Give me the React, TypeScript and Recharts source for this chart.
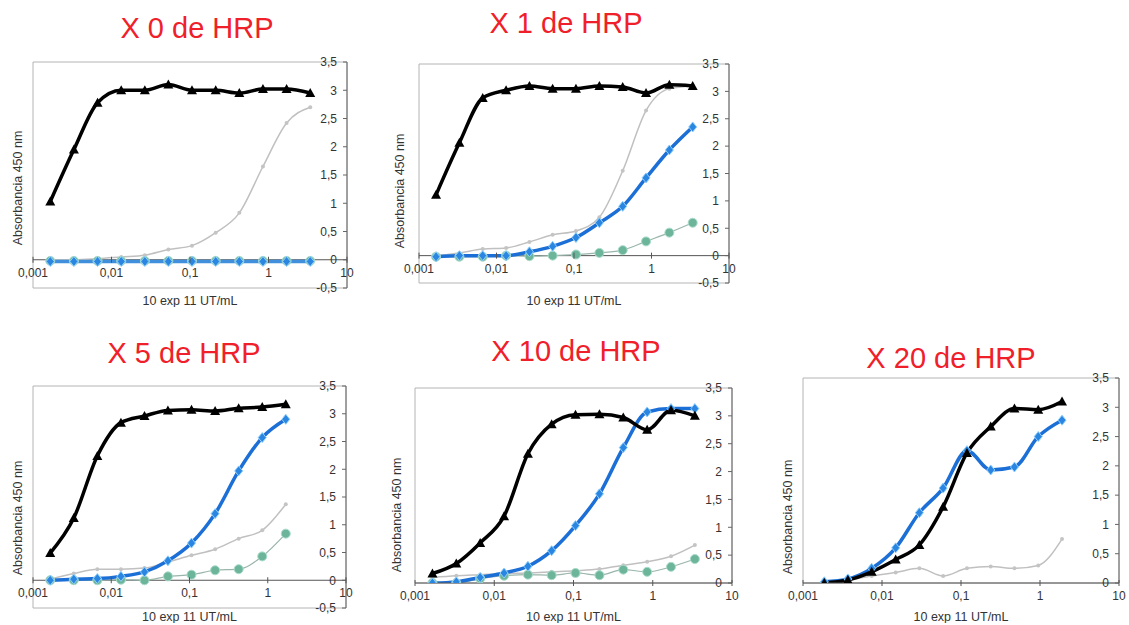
import { LineChart, Line, XAxis, YAxis, ReferenceArea, ReferenceLine } from 'recharts';

// concentrations, 10 exp 11 UT/mL (1:2 serial dilution)
const conc = [0.00166, 0.00332, 0.00664, 0.0133, 0.0266, 0.053, 0.106, 0.2125, 0.425, 0.85, 1.7, 3.4];
const conc11 = [0.00166, 0.00332, 0.00664, 0.0133, 0.0266, 0.053, 0.106, 0.2125, 0.425, 0.85, 1.7];
const concX20 = [0.00186, 0.0037, 0.0074, 0.0149, 0.0297, 0.0594, 0.119, 0.238, 0.475, 0.95, 1.9];

const xTicks = [0.001, 0.01, 0.1, 1, 10];
const yTicksNeg = [-0.5, 0, 0.5, 1, 1.5, 2, 2.5, 3, 3.5];
const yTicksPos = [0, 0.5, 1, 1.5, 2, 2.5, 3, 3.5];

// X 0 de HRP
const black0 = [1.03, 1.95, 2.78, 3.0, 3.0, 3.1, 3.0, 3.0, 2.95, 3.02, 3.02, 2.95];
const grey0 = [0, 0, 0.02, 0.05, 0.08, 0.18, 0.25, 0.48, 0.83, 1.65, 2.42, 2.7];
const blue0 = [-0.03, -0.03, -0.03, -0.03, -0.03, -0.03, -0.03, -0.03, -0.03, -0.03, -0.03, -0.03];
const green0 = [-0.02, -0.02, -0.02, -0.02, -0.02, -0.02, -0.02, -0.02, -0.02, -0.02, -0.02, -0.02];

// X 1 de HRP
const black1 = [1.11, 2.06, 2.88, 3.02, 3.1, 3.05, 3.05, 3.1, 3.08, 2.97, 3.12, 3.1];
const grey1 = [0, 0.05, 0.12, 0.14, 0.25, 0.38, 0.45, 0.7, 1.55, 2.65, 3.05, 3.1];
const blue1 = [-0.02, 0, 0, 0, 0.07, 0.17, 0.33, 0.6, 0.9, 1.42, 1.93, 2.35];
const green1 = [-0.02, -0.02, -0.02, 0, -0.01, 0, 0.02, 0.05, 0.1, 0.26, 0.42, 0.6];

// X 5 de HRP
const black5 = [0.49, 1.12, 2.24, 2.84, 2.96, 3.06, 3.07, 3.05, 3.1, 3.12, 3.17];
const grey5 = [0.02, 0.12, 0.2, 0.2, 0.22, 0.33, 0.45, 0.56, 0.75, 0.9, 1.37];
const blue5 = [0, 0.02, 0.03, 0.07, 0.15, 0.35, 0.67, 1.2, 1.97, 2.57, 2.9];
const green5 = [0, 0, 0, 0.01, 0, 0.07, 0.1, 0.18, 0.2, 0.43, 0.84];

// X 10 de HRP
const black10 = [0.17, 0.35, 0.72, 1.2, 2.32, 2.85, 3.02, 3.03, 2.97, 2.75, 3.1, 3.0];
const grey10 = [0.1, 0.13, 0.15, 0.17, 0.18, 0.2, 0.22, 0.25, 0.32, 0.38, 0.48, 0.68];
const blue10 = [0, 0.02, 0.1, 0.18, 0.3, 0.58, 1.03, 1.6, 2.43, 3.07, 3.13, 3.13];
const green10 = [0, 0, 0.08, 0.13, 0.15, 0.14, 0.18, 0.14, 0.24, 0.2, 0.29, 0.43];

// X 20 de HRP
const black20 = [0, 0.05, 0.19, 0.4, 0.65, 1.3, 2.22, 2.67, 2.98, 2.96, 3.1];
const grey20 = [0, 0.05, 0.12, 0.18, 0.25, 0.12, 0.25, 0.28, 0.25, 0.3, 0.75];
const blue20 = [0.02, 0.07, 0.25, 0.6, 1.2, 1.62, 2.26, 1.93, 1.98, 2.5, 2.78];

type Row = { x: number; black?: number; grey?: number; blue?: number; green?: number };

const rows = (xs: number[], black: number[], grey: number[], blue: number[], green?: number[]): Row[] =>
  xs.map((x, i) => ({ x, black: black[i], grey: grey[i], blue: blue[i], green: green ? green[i] : undefined }));

const comma = (v: number) => String(v).replace('.', ',');

const Triangle = (p: any) => {
  const { cx, cy, index } = p;
  if (cx == null || cy == null) return <g key={index} />;
  return <path key={index} d={`M${cx},${cy - 5} L${cx + 5},${cy + 4} L${cx - 5},${cy + 4} Z`} fill="#000" />;
};
const Diamond = (p: any) => {
  const { cx, cy, index } = p;
  if (cx == null || cy == null) return <g key={index} />;
  return <path key={index} d={`M${cx},${cy - 5} L${cx + 4},${cy} L${cx},${cy + 5} L${cx - 4},${cy} Z`} fill="#2a86e0" stroke="#8fd0ff" strokeWidth={1} />;
};
const Dot = (p: any) => {
  const { cx, cy, index } = p;
  if (cx == null || cy == null) return <g key={index} />;
  return <circle key={index} cx={cx} cy={cy} r={4.5} fill="#6db59a" stroke="#a9dccb" strokeWidth={1} />;
};
const GreyDot = (p: any) => {
  const { cx, cy, index } = p;
  if (cx == null || cy == null) return <g key={index} />;
  return <circle key={index} cx={cx} cy={cy} r={2} fill="#c4c4c4" />;
};

type PanelProps = {
  title: string;
  titleX: number;
  titleY: number;
  box: [number, number, number, number]; // plot left, right, top, bottom
  yMin: number;
  titleGap: number;
  yTitleX: number;
  yTitleY: number;
  data: Row[];
  lightBlue?: boolean;
};

function Panel({ title, titleX, titleY, box, yMin, titleGap, yTitleX, yTitleY, data, lightBlue }: PanelProps) {
  const [l, r, t, b] = box;
  const plotH = b - t;
  const lift = yMin < 0 ? (plotH * -yMin) / (3.5 - yMin) : 0;
  const xh = titleGap + 7;
  const width = r - l + 33 + 14;
  const height = plotH + 14 + xh + 2;
  const hasGreen = data.some((d) => d.green != null);

  const XTick = ({ x, y, payload }: any) => (
    <g>
      <line x1={x} x2={x} y1={y - lift - 3} y2={y - lift + 3} stroke="#555" />
      <text x={x} y={y - lift + 17} textAnchor="middle" fontSize={12} fill="#333">
        {comma(payload.value)}
      </text>
    </g>
  );

  return (
    <>
      <div style={{ position: 'absolute', left: titleX, top: titleY, transform: 'translateX(-50%)', color: '#f0202a', fontSize: 29, whiteSpace: 'nowrap' }}>
        {title}
      </div>
      <div style={{ position: 'absolute', left: yTitleX, top: yTitleY, transform: 'translate(-50%,-50%) rotate(-90deg)', fontSize: 12.5, color: '#333', whiteSpace: 'nowrap' }}>
        Absorbancia 450 nm
      </div>
      <div style={{ position: 'absolute', left: l - 33, top: t - 14 }}>
        <LineChart width={width} height={height} data={data} margin={{ top: 14, right: 13, bottom: 2, left: 33 }}>
          <XAxis
            dataKey="x"
            type="number"
            scale="log"
            domain={[0.001, 10]}
            ticks={xTicks}
            allowDataOverflow
            axisLine={yMin >= 0 ? { stroke: '#555' } : false}
            tickLine={false}
            tickSize={0}
            tickMargin={0}
            tick={<XTick />}
            height={xh}
            label={{ value: '10 exp 11 UT/mL', position: 'insideBottom', offset: 0, fontSize: 12.5, fill: '#333' }}
          />
          <YAxis
            yAxisId="r"
            orientation="right"
            mirror
            width={1}
            domain={[yMin, 3.5]}
            ticks={yMin < 0 ? yTicksNeg : yTicksPos}
            tickFormatter={comma}
            allowDataOverflow
            axisLine={{ stroke: '#666' }}
            tickLine={{ stroke: '#666' }}
            tickSize={4}
            tickMargin={6}
            tick={{ fontSize: 12, fill: '#333' }}
          />
          <ReferenceArea yAxisId="r" x1={0.001} x2={10} y1={yMin} y2={3.5} fill="none" stroke="#b4b4b4" strokeWidth={1} />
          {yMin < 0 && <ReferenceLine yAxisId="r" y={0} stroke="#555" />}
          <Line yAxisId="r" type="monotone" dataKey="grey" stroke="#c0c0c0" strokeWidth={1.5} dot={GreyDot} isAnimationActive={false} />
          {hasGreen && (
            <Line yAxisId="r" type="monotone" dataKey="green" stroke="#9ab5ab" strokeWidth={1.2} dot={Dot} isAnimationActive={false} />
          )}
          <Line
            yAxisId="r"
            type="monotone"
            dataKey="blue"
            stroke={lightBlue ? '#3f8fdc' : '#1b6fd6'}
            strokeWidth={3.5}
            dot={Diamond}
            isAnimationActive={false}
          />
          <Line yAxisId="r" type="monotone" dataKey="black" stroke="#000" strokeWidth={3.5} dot={Triangle} isAnimationActive={false} />
        </LineChart>
      </div>
    </>
  );
}

export default function App() {
  return (
    <div style={{ position: 'absolute', left: 0, top: 0, width: 1129, height: 625, overflow: 'hidden', background: '#fff', fontFamily: '"Liberation Sans", Arial, sans-serif' }}>
      <Panel title="X 0 de HRP" titleX={197} titleY={12} box={[33, 346, 62, 288]} yMin={-0.5} titleGap={10} yTitleX={18} yTitleY={188} data={rows(conc, black0, grey0, blue0, green0)} lightBlue />
      <Panel title="X 1 de HRP" titleX={566} titleY={7} box={[419, 728, 64, 283]} yMin={-0.5} titleGap={15} yTitleX={400} yTitleY={191} data={rows(conc, black1, grey1, blue1, green1)} />
      <Panel title="X 5 de HRP" titleX={184} titleY={337} box={[33, 345, 386, 608]} yMin={-0.5} titleGap={6} yTitleX={18} yTitleY={518} data={rows(conc11, black5, grey5, blue5, green5)} />
      <Panel title="X 10 de HRP" titleX={576} titleY={335} box={[415, 731, 388, 583]} yMin={0} titleGap={31} yTitleX={397} yTitleY={515} data={rows(conc, black10, grey10, blue10, green10)} />
      <Panel title="X 20 de HRP" titleX={951} titleY={342} box={[803, 1118, 378, 583]} yMin={0} titleGap={31} yTitleX={788} yTitleY={517} data={rows(concX20, black20, grey20, blue20)} />
    </div>
  );
}
